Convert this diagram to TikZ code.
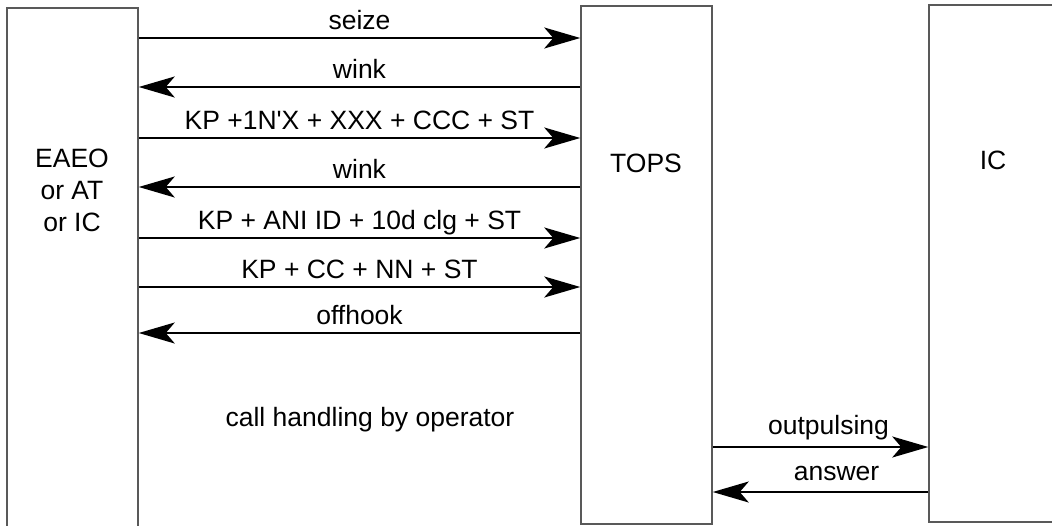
\documentclass[tikz,border=0pt]{standalone}
\usepackage{fontspec}
\setmainfont{Liberation Sans}
\usetikzlibrary{arrows.meta}

\begin{document}
\begin{tikzpicture}[x=1pt, y=-1pt,
  every node/.style={font=\fontsize{26.5}{32}\selectfont},
  box/.style={draw=black!65, line width=1.5pt, inner sep=0pt},
  msg/.style={draw=black, line width=2pt, -{Stealth[length=36pt, width=21pt, inset=9pt]}},
  lbl/.style={midway, anchor=base, yshift=9pt, inner sep=0pt}]
  \useasboundingbox (0,0) rectangle (1052,525);
  % stations
  \node[box, minimum width=131pt, minimum height=560pt] (eaeo) at (72.5,288){};
  \node[box, minimum width=131pt, minimum height=518pt] (tops) at (646.5,265){};
  \node[box, minimum width=131pt, minimum height=517pt] (ic) at (994.5,263.5){};
  \node[align=center] (eaeotext) at (72,190){EAEO\\or AT\\or IC};
  \node (topstext) at (646,163){TOPS};
  \node (ictext) at (993,160){IC};
  \node (oper) at (370,420){call handling by operator};
  % signals
  \draw[msg] (eaeo.east |- 0,38) -- (tops.west |- 0,38) node[lbl]{seize};
  \draw[msg] (tops.west |- 0,87) -- (eaeo.east |- 0,87) node[lbl]{wink};
  \draw[msg] (eaeo.east |- 0,138) -- (tops.west |- 0,138) node[lbl]{KP +1N\textquotesingle X + XXX + CCC + ST};
  \draw[msg] (tops.west |- 0,187) -- (eaeo.east |- 0,187) node[lbl]{wink};
  \draw[msg] (eaeo.east |- 0,238) -- (tops.west |- 0,238) node[lbl]{KP + ANI ID + 10d clg + ST};
  \draw[msg] (eaeo.east |- 0,287) -- (tops.west |- 0,287) node[lbl]{KP + CC + NN + ST};
  \draw[msg] (tops.west |- 0,333) -- (eaeo.east |- 0,333) node[lbl]{offhook};
  \draw[msg] (tops.east |- 0,447) -- (ic.west |- 0,447) node[lbl, yshift=4pt, xshift=8pt]{outpulsing};
  \draw[msg] (ic.west |- 0,492) -- (tops.east |- 0,492) node[lbl, yshift=3pt, xshift=16pt]{answer};
\end{tikzpicture}
\end{document}
